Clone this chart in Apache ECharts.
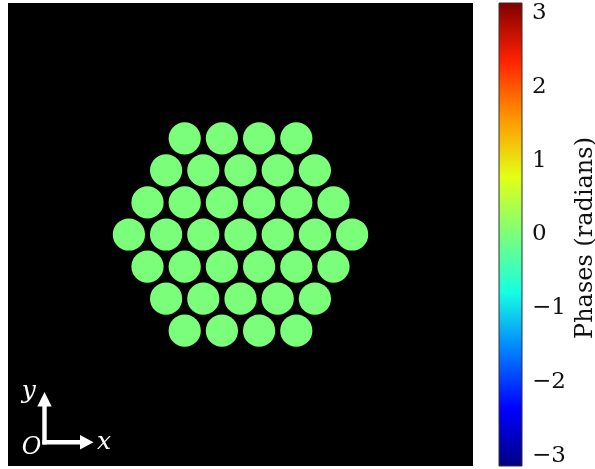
<!DOCTYPE html>
<html>
<head>
<meta charset="utf-8">
<script src="https://cdn.jsdelivr.net/npm/echarts@6/dist/echarts.min.js"></script>
<style>
html,body{margin:0;padding:0;background:#fff;}
#chart{width:595px;height:469px;}
</style>
</head>
<body>
<div id="chart"></div>
<script>
// Core centres (in units of the core pitch) and phases (radians)
var coreX = [
  -1.5, -0.5, 0.5, 1.5,
  -2, -1, 0, 1, 2,
  -2.5, -1.5, -0.5, 0.5, 1.5, 2.5,
  -3, -2, -1, 0, 1, 2, 3,
  -2.5, -1.5, -0.5, 0.5, 1.5, 2.5,
  -2, -1, 0, 1, 2,
  -1.5, -0.5, 0.5, 1.5
];
var coreY = [
  2.598, 2.598, 2.598, 2.598,
  1.732, 1.732, 1.732, 1.732, 1.732,
  0.866, 0.866, 0.866, 0.866, 0.866, 0.866,
  0, 0, 0, 0, 0, 0, 0,
  -0.866, -0.866, -0.866, -0.866, -0.866, -0.866,
  -1.732, -1.732, -1.732, -1.732, -1.732,
  -2.598, -2.598, -2.598, -2.598
];
var corePhase = [
  0, 0, 0, 0,
  0, 0, 0, 0, 0,
  0, 0, 0, 0, 0, 0,
  0, 0, 0, 0, 0, 0, 0,
  0, 0, 0, 0, 0, 0,
  0, 0, 0, 0, 0,
  0, 0, 0, 0
];
var coreRadius = 0.433;
var fieldHalfWidth = 6.25;
var phaseMin = -Math.PI, phaseMax = Math.PI;
var colorbarTicks = [-3, -2, -1, 0, 1, 2, 3];
var colorbarLabel = 'Phases (radians)';

// jet colormap samples (evenly spaced)
var jet = ['#000080','#0000ff','#0080ff','#15ffe2','#7bff7b','#e2ff15','#ff9700','#ff2100','#800000'];

var coreData = coreX.map(function (x, i) { return [x, coreY[i], corePhase[i]]; });

var chart = echarts.init(document.getElementById('chart'), null, {renderer: 'canvas'});
var serif = '"DejaVu Serif", serif';

var option = {
  animation: false,
  backgroundColor: '#fff',
  grid: [
    {left: 8, top: 3, width: 465, height: 463, show: true, backgroundColor: '#000', borderWidth: 0},
    {left: 499, top: 3, width: 23, height: 463, show: false}
  ],
  xAxis: [
    {type: 'value', gridIndex: 0, min: -fieldHalfWidth, max: fieldHalfWidth, show: false},
    {type: 'value', gridIndex: 1, min: 0, max: 1, show: false}
  ],
  yAxis: [
    {type: 'value', gridIndex: 0, min: -fieldHalfWidth, max: fieldHalfWidth, show: false},
    {type: 'value', gridIndex: 1, min: phaseMin, max: phaseMax, position: 'right',
     axisLine: {show: false},
     splitLine: {show: false},
     axisTick: {show: true, length: 4, lineStyle: {color: '#222', width: 1}, customValues: colorbarTicks},
     axisLabel: {show: true, customValues: colorbarTicks, margin: 10, color: '#111',
                 fontFamily: serif, fontSize: 23,
                 formatter: function (v) { return String(v).replace('-', '\u2212'); }}
    }
  ],
  visualMap: {
    show: false, type: 'continuous', seriesIndex: 0, dimension: 2,
    min: phaseMin, max: phaseMax, inRange: {color: jet}
  },
  series: [
    {
      type: 'custom', xAxisIndex: 0, yAxisIndex: 0, data: coreData,
      renderItem: function (params, api) {
        var c = api.coord([api.value(0), api.value(1)]);
        var s = api.size([coreRadius * 2, coreRadius * 2]);
        return {type: 'circle', shape: {cx: c[0], cy: c[1], r: s[0] / 2},
                style: {fill: api.visual('color')}};
      }
    },
    {
      type: 'custom', xAxisIndex: 1, yAxisIndex: 1, data: [[0, phaseMin, 1, phaseMax]],
      renderItem: function (params, api) {
        var p0 = api.coord([api.value(0), api.value(3)]);
        var p1 = api.coord([api.value(2), api.value(1)]);
        var stops = jet.map(function (c, i) { return {offset: i / (jet.length - 1), color: c}; });
        return {type: 'rect', shape: {x: p0[0], y: p0[1], width: p1[0] - p0[0], height: p1[1] - p0[1]},
                style: {fill: {type: 'linear', x: 0, y: 1, x2: 0, y2: 0, colorStops: stops},
                        stroke: '#333', lineWidth: 1}};
      }
    }
  ],
  graphic: [
    {type: 'text', x: 586, y: 238, rotation: Math.PI / 2,
     style: {text: colorbarLabel, font: '24px ' + serif, fill: '#111', align: 'center', verticalAlign: 'middle'}},
    // coordinate arrows
    {type: 'polygon', shape: {points: [[42.3, 444.5], [42.3, 406.5], [37.3, 406.5], [44.5, 392], [51.7, 406.5], [46.7, 406.5], [46.7, 444.5]]},
     style: {fill: '#fff'}},
    {type: 'polygon', shape: {points: [[42.3, 440], [80, 440], [80, 435], [93.5, 442.3], [80, 449.5], [80, 444.5], [42.3, 444.5]]},
     style: {fill: '#fff'}},
    {type: 'text', x: 28.7, y: 391, style: {text: 'y', font: 'italic 25px ' + serif, fill: '#fff', align: 'center', verticalAlign: 'middle'}},
    {type: 'text', x: 31.7, y: 447.5, style: {text: 'O', font: 'italic 24px ' + serif, fill: '#fff', align: 'center', verticalAlign: 'middle'}},
    {type: 'text', x: 104, y: 442.5, style: {text: 'x', font: 'italic 25px ' + serif, fill: '#fff', align: 'center', verticalAlign: 'middle'}}
  ]
};
chart.setOption(option);
</script>
</body>
</html>
